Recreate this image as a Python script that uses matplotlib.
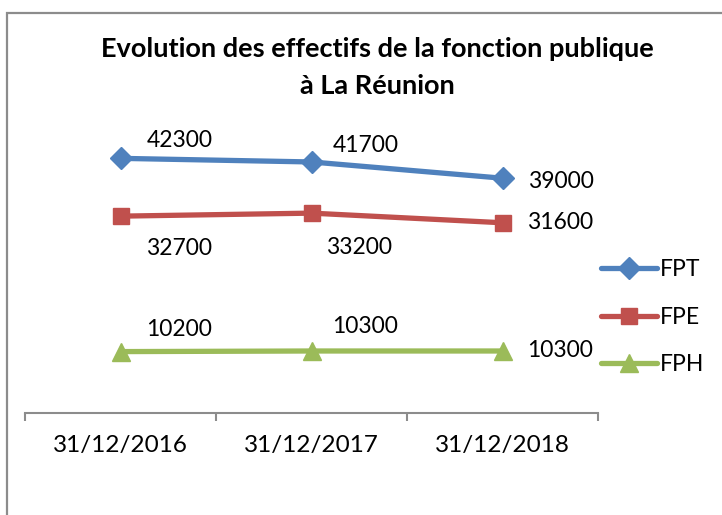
import matplotlib.pyplot as plt
from matplotlib.patches import Rectangle

plt.rcParams['font.family'] = ['Lato', 'DejaVu Sans']

categories = ['31/12/2016', '31/12/2017', '31/12/2018']
series_names = ['FPT', 'FPE', 'FPH']
fpt = [42300, 41700, 39000]
fpe = [32700, 33200, 31600]
fph = [10200, 10300, 10300]

colors = ['#4F81BD', '#C0504D', '#9BBB59']
markers = ['D', 's', '^']
msizes = [11, 12, 13]
# label offsets in pixels (dx, dy) for each point
offsets = [
    [(59, 18), (54, 16), (58, -3)],
    [(59, -32), (48, -34), (58, 0)],
    [(59, 22), (54, 24), (58, 0)],
]

W, H = 722, 515
fig = plt.figure(figsize=(W / 100, H / 100), dpi=100)
ax = fig.add_axes([25 / W, (H - 413) / H, (598 - 25) / W, (413 - 112) / H])

x = list(range(len(categories)))
for vals, name, c, m, ms, offs in zip([fpt, fpe, fph], series_names, colors, markers, msizes, offsets):
    ax.plot(x, vals, color=c, lw=3.8, marker=m, markersize=ms, label=name,
            solid_capstyle='round', clip_on=False)
    for xi, v, (dx, dy) in zip(x, vals, offs):
        ax.annotate(str(v), (xi, v), xytext=(dx, dy), textcoords='offset pixels',
                    ha='center', va='center', fontsize=16.5, color='black')

ax.set_xlim(-0.5, 2.5)
ax.set_ylim(0, 50000)
ax.set_yticks([])
for s in ['left', 'top', 'right']:
    ax.spines[s].set_visible(False)
ax.spines['bottom'].set_color('#8c8c8c')
ax.spines['bottom'].set_linewidth(1.5)
ax.set_xticks(x)
ax.set_xticklabels(categories, fontsize=17.5)
ax.set_xticks([-0.5, 0.5, 1.5, 2.5], minor=True)
ax.tick_params(axis='x', which='major', length=0, pad=16)
ax.tick_params(axis='x', which='minor', length=6, width=1.5, color='#8c8c8c', direction='out')

fig.text(377 / W, 1 - 49 / H, 'Evolution des effectifs de la fonction publique',
         ha='center', va='center', fontsize=19.5, fontweight='bold')
fig.text(377 / W, 1 - 86 / H, 'à La Réunion',
         ha='center', va='center', fontsize=19.5, fontweight='bold')

leg = ax.legend(loc='upper left', bbox_to_anchor=(592 / W, 1 - 250 / H),
                bbox_transform=fig.transFigure, frameon=False, fontsize=16.5,
                handlelength=2.45, handletextpad=0.1, labelspacing=1.15,
                borderaxespad=0)

# outer chart border
fig.patches.append(Rectangle((7 / W, -0.1), 1.2, 1 - 13 / H + 0.1, transform=fig.transFigure,
                             fill=False, edgecolor='#8c8c8c', lw=1.6))

fig.savefig('out.png', dpi=100)
